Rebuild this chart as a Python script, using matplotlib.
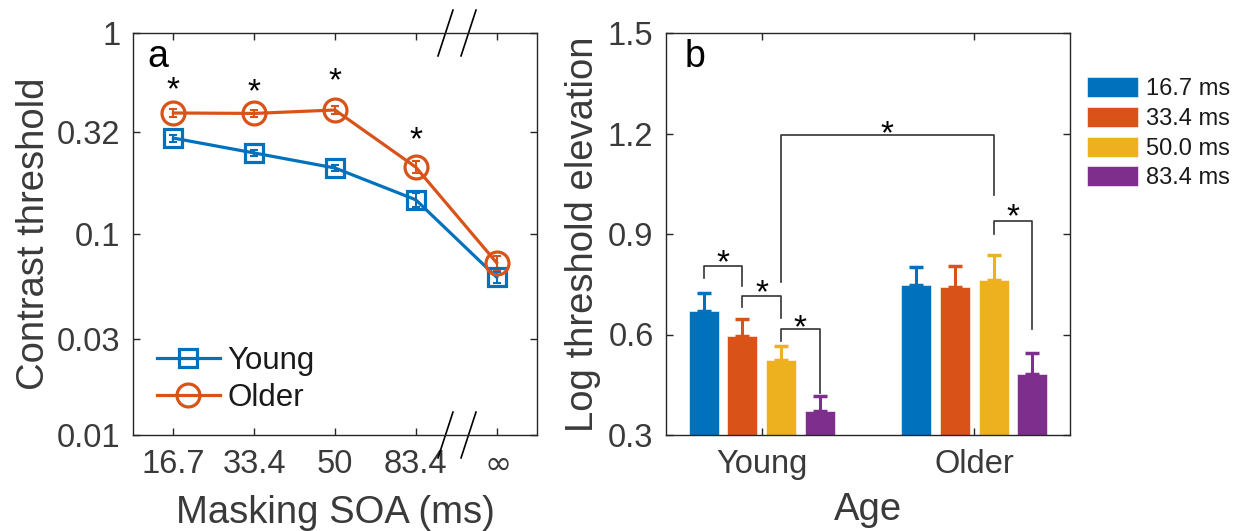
import matplotlib
matplotlib.use("Agg")
import matplotlib.pyplot as plt
import numpy as np

plt.rcParams['font.family'] = ['Liberation Sans', 'DejaVu Sans']

# ---------------- data ----------------
soa_labels = ['16.7', '33.4', '50', '83.4', '∞']
young_thr = [0.300, 0.253, 0.213, 0.148, 0.061]
young_err = [0.012, 0.010, 0.008, 0.012, 0.004]
older_thr = [0.400, 0.398, 0.414, 0.215, 0.072]
older_err = [0.020, 0.015, 0.020, 0.015, 0.006]
star_a_y = [0.58, 0.565, 0.64, 0.326]   # asterisks above points 1-4

groups = ['Young', 'Older']
dur_labels = ['16.7 ms', '33.4 ms', '50.0 ms', '83.4 ms']
elev_young = [0.670, 0.596, 0.524, 0.372]
elev_young_err = [0.054, 0.050, 0.042, 0.044]
elev_older = [0.748, 0.742, 0.763, 0.482]
elev_older_err = [0.053, 0.062, 0.074, 0.063]

# significance brackets: (group a, bar i, group b, bar j, top, left leg end, right leg end, star y)
brackets = [
    (0, 0, 0, 1, 0.804, 0.769, 0.745, 0.843),
    (0, 1, 0, 2, 0.715, 0.682, 0.649, 0.751),
    (0, 2, 0, 3, 0.616, 0.581, 0.425, 0.649),
    (0, 2, 1, 2, 1.196, 0.757, 1.016, 1.228),
    (1, 2, 1, 3, 0.939, 0.900, 0.616, 0.978),
]

colors = ['#0072BD', '#D95319', '#EDB120', '#7E2F8E']
axis_col = '#262626'
text_col = '#3a3a3a'
TICK_FS = 23.5
LABEL_FS = 27.5
STAR_FS = 24


def star(ax, x, y):
    # place the ink centre of '*' at (x, y)
    ax.annotate('*', xy=(x, y), xytext=(0, -13.5), textcoords='offset points',
                ha='center', va='baseline', fontsize=STAR_FS, color='black')


fig = plt.figure(figsize=(12.37, 5.31), dpi=100)

# ---------------- panel a ----------------
axa = fig.add_axes([133/1237, 1-435/531, 404/1237, 402/531])
x = np.arange(1, len(soa_labels)+1)
axa.errorbar(x, young_thr, yerr=young_err, fmt='none', ecolor=colors[0], elinewidth=1.5, capsize=3, capthick=1.5)
axa.errorbar(x, older_thr, yerr=older_err, fmt='none', ecolor=colors[1], elinewidth=1.5, capsize=3, capthick=1.5)
axa.plot(x, young_thr, '-s', color=colors[0], lw=2.3, ms=13, mfc='none', mew=2.3, label='Young')
axa.plot(x, older_thr, '-o', color=colors[1], lw=2.3, ms=16.5, mfc='none', mew=2.3, label='Older')
for xi, yi in zip(x[:4], star_a_y):
    star(axa, xi, yi)
axa.set_yscale('log')
axa.set_ylim(0.01, 1)
axa.set_xlim(0.5, 5.5)
axa.set_yticks([0.01, 0.03, 0.1, 0.32, 1])
axa.set_yticklabels(['0.01', '0.03', '0.1', '0.32', '1'])
axa.yaxis.set_minor_locator(matplotlib.ticker.NullLocator())
axa.set_xticks(x)
axa.set_xticklabels(soa_labels[:-1] + [r'$\infty$'])
axa.set_xlabel('Masking SOA (ms)', fontsize=LABEL_FS, color=text_col, labelpad=11)
axa.set_ylabel('Contrast threshold', fontsize=LABEL_FS, color=text_col)
axa.text(0.035, 0.915, 'a', transform=axa.transAxes, fontsize=27, va='baseline', ha='left')
leg = axa.legend(loc='lower left', bbox_to_anchor=(0.06, 0.055), frameon=False, fontsize=22.5,
                 handlelength=2.0, handletextpad=0.25, labelspacing=0.22, borderpad=0, borderaxespad=0)
for t in leg.get_texts():
    t.set_color('#1a1a1a')
# axis break marks
for xa in (0.755, 0.812):
    for yc in (0.0, 1.0):
        axa.plot([xa, xa+0.037], [yc-0.057, yc+0.057], transform=axa.transAxes, color='black',
                 lw=1.2, clip_on=False)

# ---------------- panel b ----------------
axb = fig.add_axes([666/1237, 1-435/531, 404/1237, 402/531])
gx = np.arange(1, len(groups)+1)
offsets = [-0.273, -0.091, 0.091, 0.273]
bw = 0.141
for k in range(4):
    vals = [elev_young[k], elev_older[k]]
    errs = [elev_young_err[k], elev_older_err[k]]
    xs = gx + offsets[k]
    axb.bar(xs, np.array(vals) - 0.3, bottom=0.3, width=bw, color=colors[k], edgecolor='white',
            linewidth=0.4, label=dur_labels[k], zorder=2)
    axb.errorbar(xs, vals, yerr=[[0, 0], errs], fmt='none', ecolor=colors[k], elinewidth=2.2,
                 capsize=4.7, capthick=2.5, zorder=3)

for g1, i, g2, j, top, lend, rend, sy in brackets:
    x1 = gx[g1] + offsets[i]
    x2 = gx[g2] + offsets[j]
    axb.plot([x1, x1, x2, x2], [lend, top, top, rend], color='#333333', lw=1.2, zorder=4)
    star(axb, (x1+x2)/2, sy)

axb.set_xlim(0.55, 2.45)
axb.set_ylim(0.3, 1.5)
axb.set_yticks([0.3, 0.6, 0.9, 1.2, 1.5])
axb.set_yticklabels(['0.3', '0.6', '0.9', '1.2', '1.5'])
axb.set_xticks(gx)
axb.set_xticklabels(groups)
axb.set_xlabel('Age', fontsize=LABEL_FS, color=text_col, labelpad=9)
axb.set_ylabel('Log threshold elevation', fontsize=LABEL_FS, color=text_col, labelpad=5)
axb.text(0.045, 0.915, 'b', transform=axb.transAxes, fontsize=27, va='baseline', ha='left')
legb = axb.legend(loc='upper left', bbox_to_anchor=(1087/1237, 1-77/531), bbox_transform=fig.transFigure,
                  frameon=False, fontsize=17, handlelength=2.16, handleheight=0.93,
                  handletextpad=0.35, labelspacing=0.28, borderpad=0, borderaxespad=0)
for t in legb.get_texts():
    t.set_color('#1a1a1a')

for ax in (axa, axb):
    for s in ax.spines.values():
        s.set_color(axis_col)
        s.set_linewidth(1.0)
    ax.tick_params(axis='both', which='both', direction='in', length=5, width=1.0, color=axis_col,
                   labelsize=TICK_FS, labelcolor=text_col, top=True, right=True)
    ax.tick_params(axis='y', pad=9)
    ax.tick_params(axis='x', pad=10)

axa.yaxis.set_label_coords(-0.2, 0.5)

fig.savefig('out.png', dpi=100)
